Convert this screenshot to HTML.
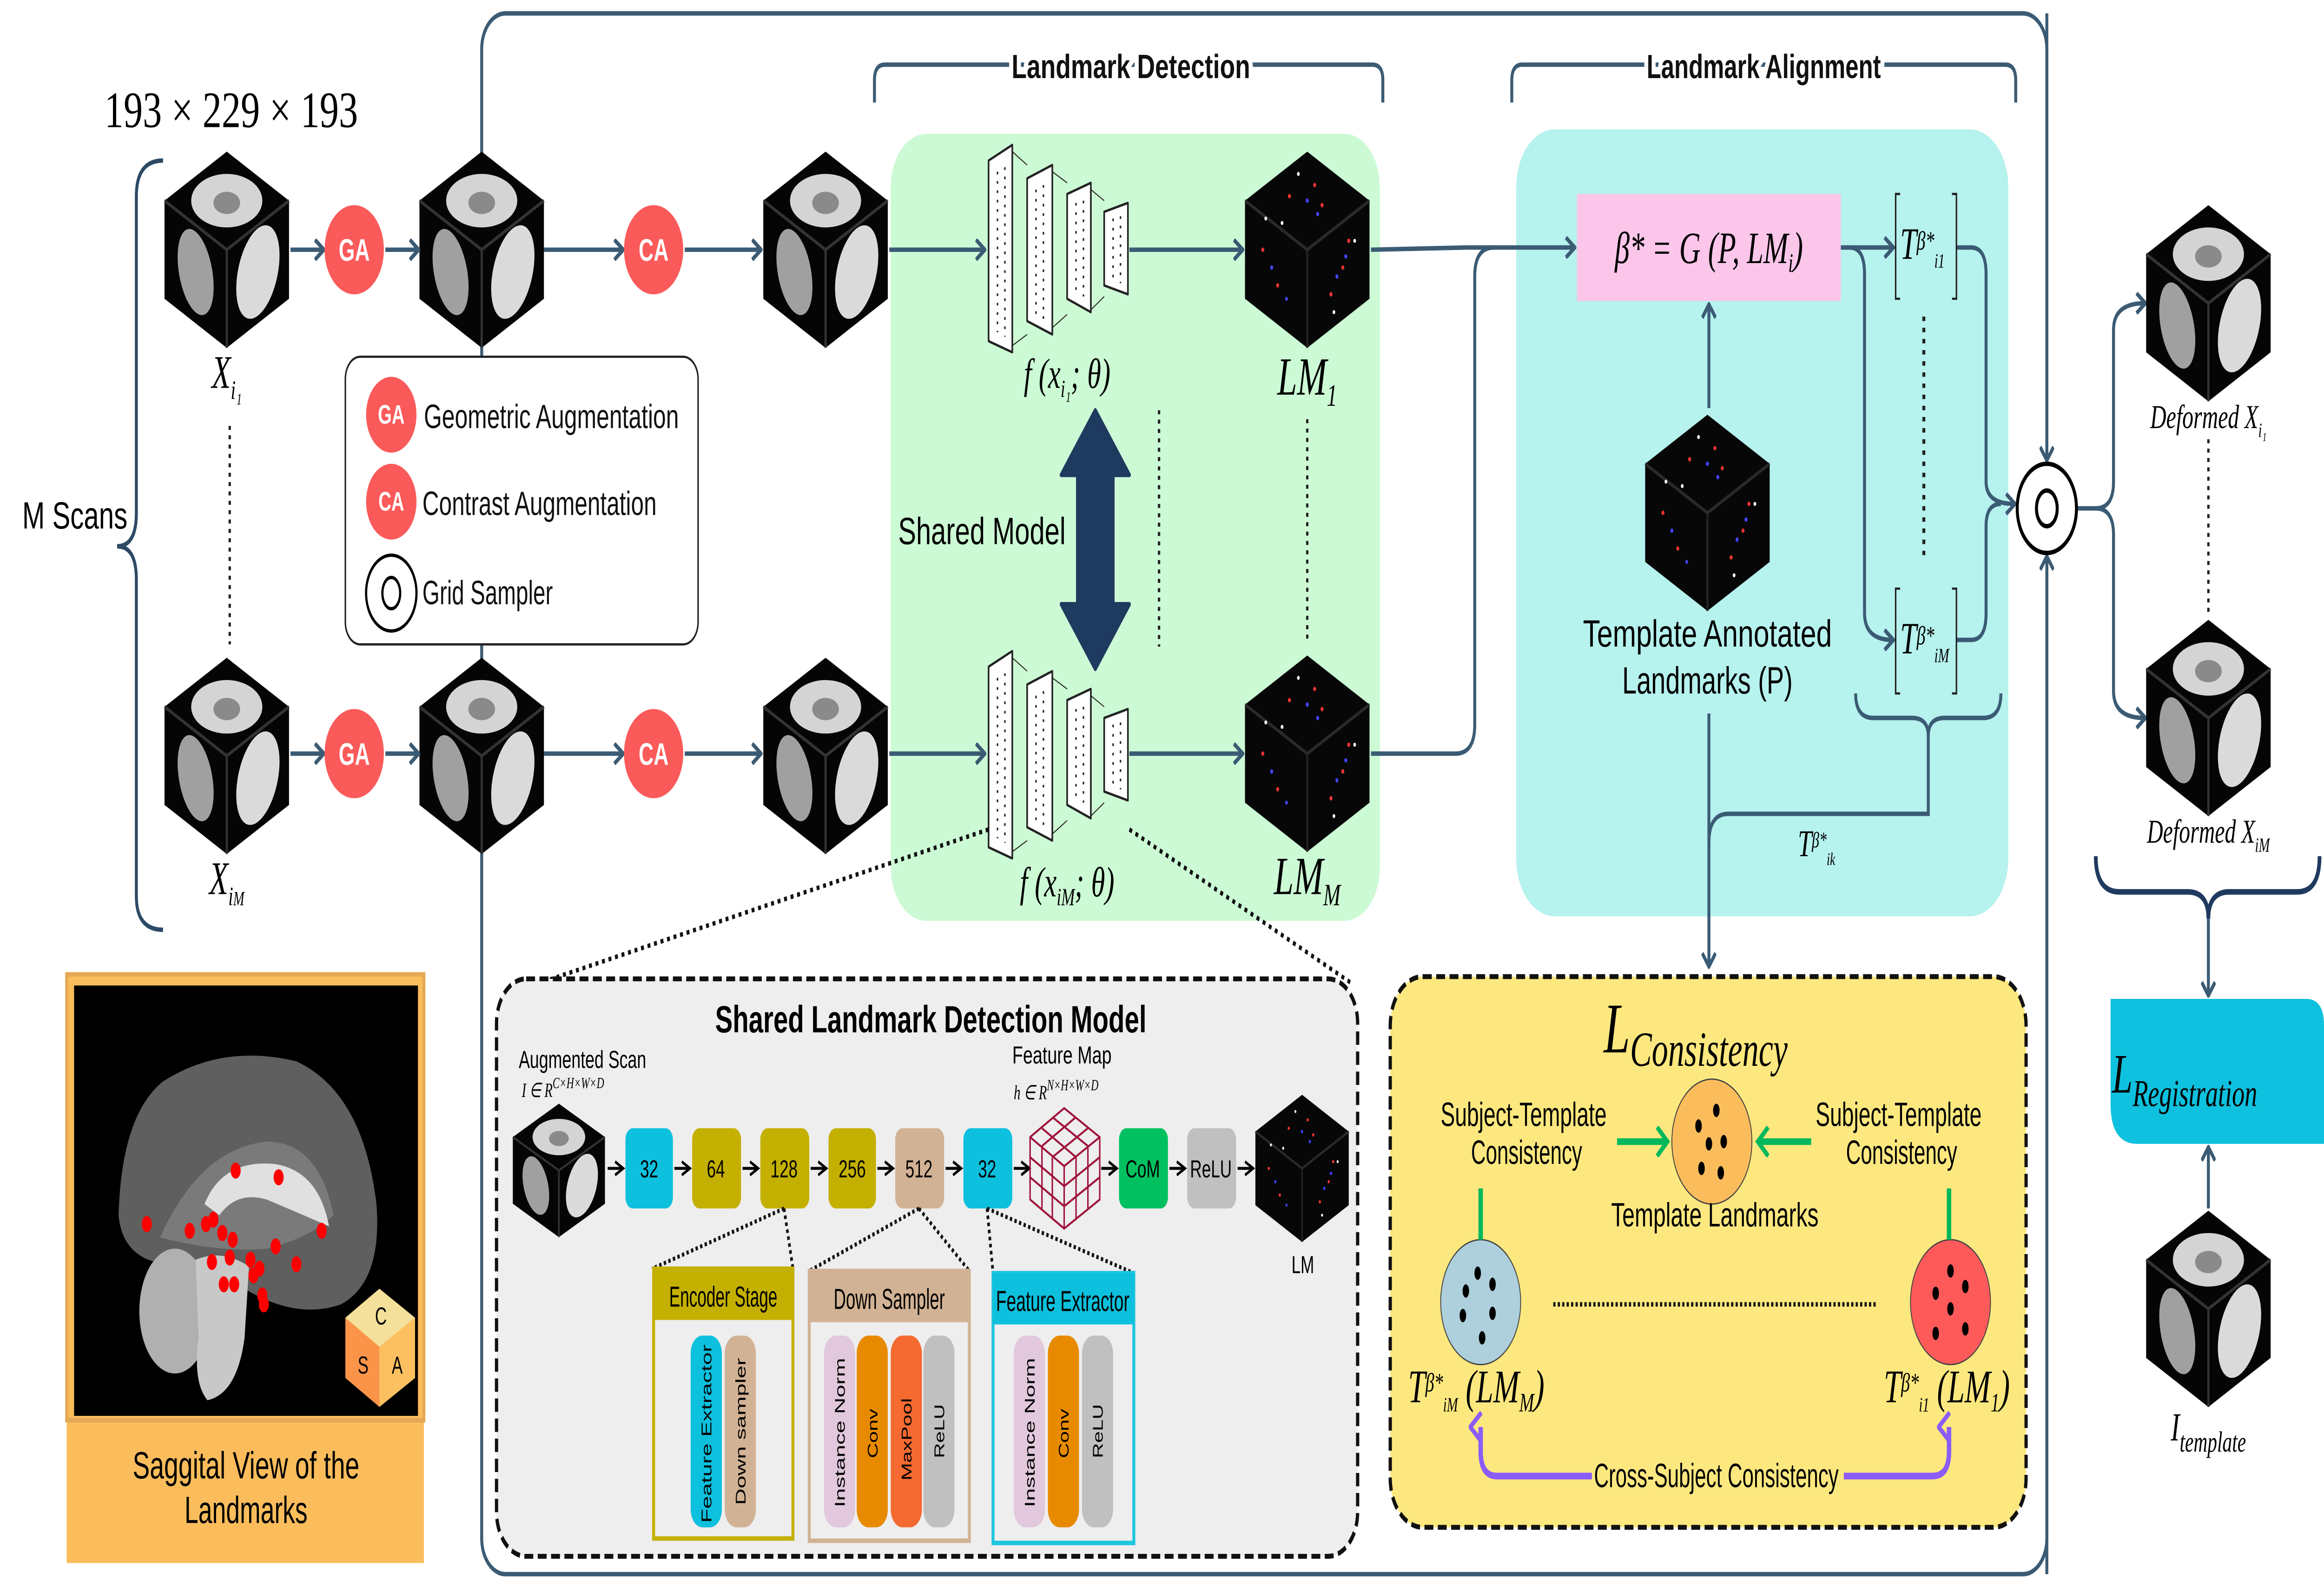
<!DOCTYPE html>
<html><head><meta charset="utf-8">
<style>
html,body{margin:0;padding:0;background:#fff;width:100vw;height:100vh;overflow:hidden;}
svg{display:block;width:100vw;height:100vh;}
text{font-family:"Liberation Sans",sans-serif;}
.m{font-family:"Liberation Serif",serif;font-style:italic;}
.r{font-family:"Liberation Serif",serif;}
</style></head>
<body>
<svg viewBox="0 0 1568 714" preserveAspectRatio="none" xmlns="http://www.w3.org/2000/svg">
<defs>
<marker id="ar" markerWidth="8" markerHeight="10" refX="6.5" refY="5" orient="auto" markerUnits="userSpaceOnUse">
<path d="M1,0.5 L7,5 L1,9.5" fill="none" stroke="#3b5b74" stroke-width="2"/></marker>
<marker id="ak" markerWidth="8" markerHeight="8" refX="6" refY="4" orient="auto" markerUnits="userSpaceOnUse">
<path d="M1,1 L6.5,4 L1,7" fill="none" stroke="#000" stroke-width="1.3"/></marker>
<marker id="ag" markerWidth="10" markerHeight="14" refX="8" refY="7" orient="auto" markerUnits="userSpaceOnUse">
<path d="M1,0.5 L8,7 L1,13.5" fill="none" stroke="#00b85c" stroke-width="2.4"/></marker>
<marker id="ap" markerWidth="14" markerHeight="10" refX="7" refY="8" orient="auto" markerUnits="userSpaceOnUse">
<path d="M0.5,8.5 L7,1 L13.5,8.5" fill="none" stroke="#8b5cf6" stroke-width="2.4"/></marker>
<g id="bc">
<polygon points="42,0 84,22 84,66 42,88 0,66 0,22" fill="#050505"/>
<ellipse cx="42" cy="22" rx="24" ry="12" fill="#d4d4d4"/>
<ellipse cx="42" cy="23" rx="9" ry="5" fill="#8a8a8a"/>
<ellipse cx="21" cy="54" rx="11" ry="20" fill="#a0a0a0" transform="rotate(-18 21 54)"/>
<ellipse cx="63" cy="54" rx="13" ry="22" fill="#dadada" transform="rotate(22 63 54)"/>
<line x1="42" y1="44" x2="42" y2="88" stroke="#333" stroke-width="1.5"/>
<polyline points="0,22 42,44 84,22" fill="none" stroke="#333" stroke-width="1.5"/>
</g>
<g id="lc">
<polygon points="42,0 84,22 84,66 42,88 0,66 0,22" fill="#070707"/>
<line x1="42" y1="44" x2="42" y2="88" stroke="#222" stroke-width="1.5"/>
<polyline points="0,22 42,44 84,22" fill="none" stroke="#2a2a2a" stroke-width="1.5"/>
<g fill="#e33"><circle cx="30" cy="20" r="1"/><circle cx="52" cy="24" r="1"/><circle cx="12" cy="44" r="1"/><circle cx="66" cy="52" r="1"/><circle cx="58" cy="64" r="1"/><circle cx="22" cy="60" r="1"/><circle cx="47" cy="15" r="1"/><circle cx="70" cy="40" r="1"/></g>
<g fill="#44f"><circle cx="42" cy="22" r="1"/><circle cx="18" cy="52" r="1"/><circle cx="68" cy="47" r="1"/><circle cx="28" cy="66" r="0.9"/><circle cx="49" cy="28" r="1"/><circle cx="62" cy="56" r="1"/></g>
<g fill="#fff"><circle cx="36" cy="10" r="0.9"/><circle cx="74" cy="40" r="0.9"/><circle cx="25" cy="32" r="0.9"/><circle cx="60" cy="72" r="0.9"/><circle cx="14" cy="30" r="0.9"/></g>
</g>
<g id="net" fill="#fff" stroke="#222" stroke-width="1.1" stroke-linejoin="round">
<g stroke-width="0.5"><line x1="16" y1="3" x2="26" y2="9"/><line x1="16" y1="90" x2="26" y2="85"/><line x1="43" y1="12" x2="53" y2="17"/><line x1="43" y1="82" x2="53" y2="76"/><line x1="69" y1="20" x2="78" y2="25"/><line x1="69" y1="74" x2="78" y2="68"/></g>
<polygon points="0,7 16,0 16,93 0,88"/>
<polygon points="26,15 43,9 43,85 26,79"/>
<polygon points="53,22 69,17 69,75 53,69"/>
<polygon points="78,30 94,26 94,67 78,63"/>
<g stroke-dasharray="1.2,3" stroke-width="1"><line x1="6" y1="12" x2="6" y2="84"/><line x1="11" y1="10" x2="11" y2="86"/><line x1="32" y1="20" x2="32" y2="76"/><line x1="37" y1="18" x2="37" y2="78"/><line x1="59" y1="26" x2="59" y2="67"/><line x1="64" y1="25" x2="64" y2="68"/><line x1="84" y1="33" x2="84" y2="61"/><line x1="89" y1="32" x2="89" y2="62"/></g>
</g>
</defs>

<rect x="325" y="6" width="1056" height="700" rx="16" fill="none" stroke="#3b5b74" stroke-width="2"/>

<rect x="601" y="60" width="330" height="353" rx="24" fill="#ccfad5"/>
<rect x="1023" y="58" width="332" height="353" rx="26" fill="#b6f2ee"/>

<path d="M590,46 L590,36 Q590,29 597,29 L926,29 Q933,29 933,36 L933,46" fill="none" stroke="#3b5b74" stroke-width="2"/>
<text x="763" y="35" font-size="15" font-weight="bold" text-anchor="middle" textLength="161" lengthAdjust="spacingAndGlyphs" fill="#111" stroke="#fff" stroke-width="5" paint-order="stroke">Landmark Detection</text>
<path d="M1020,46 L1020,36 Q1020,29 1027,29 L1353,29 Q1360,29 1360,36 L1360,46" fill="none" stroke="#3b5b74" stroke-width="2"/>
<text x="1190" y="35" font-size="15" font-weight="bold" text-anchor="middle" textLength="158" lengthAdjust="spacingAndGlyphs" fill="#111" stroke="#fff" stroke-width="5" paint-order="stroke">Landmark Alignment</text>

<text x="156" y="57" class="r" font-size="23" text-anchor="middle" textLength="171" lengthAdjust="spacingAndGlyphs">193 × 229 × 193</text>

<path d="M110,72 Q92,72 92,88 L92,230 Q92,245 79,245 Q92,245 92,260 L92,402 Q92,417 110,417" fill="none" stroke="#2c4a66" stroke-width="2"/>
<text x="15" y="237" font-size="17" textLength="71" lengthAdjust="spacingAndGlyphs">M  Scans</text>

<use href="#bc" x="111" y="68"/>
<use href="#bc" x="283" y="68"/>
<use href="#bc" x="515" y="68"/>
<use href="#bc" x="111" y="295"/>
<use href="#bc" x="283" y="295"/>
<use href="#bc" x="515" y="295"/>

<text x="153" y="174" class="m" font-size="21" text-anchor="middle">X<tspan font-size="12" dy="5">i₁</tspan></text>
<text x="153" y="401" class="m" font-size="21" text-anchor="middle">X<tspan font-size="12" dy="5">i<tspan font-size="9">M</tspan></tspan></text>
<line x1="155" y1="191" x2="155" y2="289" stroke="#222" stroke-width="1.6" stroke-dasharray="1.8,2.4"/>

<g stroke="#3b5b74" stroke-width="2" fill="none" marker-end="url(#ar)">
<line x1="196" y1="112" x2="218" y2="112"/><line x1="260" y1="112" x2="282" y2="112"/>
<line x1="367" y1="112" x2="420" y2="112"/><line x1="462" y1="112" x2="513" y2="112"/>
<line x1="600" y1="112" x2="664" y2="112"/><line x1="762" y1="112" x2="838" y2="112"/>
<line x1="196" y1="338" x2="218" y2="338"/><line x1="260" y1="338" x2="282" y2="338"/>
<line x1="367" y1="338" x2="420" y2="338"/><line x1="462" y1="338" x2="513" y2="338"/>
<line x1="600" y1="338" x2="664" y2="338"/><line x1="762" y1="338" x2="838" y2="338"/>
</g>
<g font-size="14" font-weight="bold" fill="#fff" text-anchor="middle">
<circle cx="239" cy="112" r="20" fill="#fb5a5a"/><text x="239" y="117">GA</text>
<circle cx="441" cy="112" r="20" fill="#fb5a5a"/><text x="441" y="117">CA</text>
<circle cx="239" cy="338" r="20" fill="#fb5a5a"/><text x="239" y="343">GA</text>
<circle cx="441" cy="338" r="20" fill="#fb5a5a"/><text x="441" y="343">CA</text>
</g>

<rect x="233" y="160" width="238" height="129" rx="10" fill="#fff" stroke="#222" stroke-width="1"/>
<g font-size="12" font-weight="bold" fill="#fff" text-anchor="middle">
<circle cx="264" cy="186" r="17" fill="#fb5a5a"/><text x="264" y="190">GA</text>
<circle cx="264" cy="225" r="17" fill="#fb5a5a"/><text x="264" y="229">CA</text>
</g>
<circle cx="264" cy="266" r="17" fill="#fff" stroke="#000" stroke-width="1.5"/>
<ellipse cx="264" cy="266" rx="6" ry="7" fill="none" stroke="#000" stroke-width="1.5"/>
<g font-size="15" fill="#111">
<text x="286" y="192" textLength="172" lengthAdjust="spacingAndGlyphs">Geometric Augmentation</text>
<text x="285" y="231" textLength="158" lengthAdjust="spacingAndGlyphs">Contrast Augmentation</text>
<text x="285" y="271" textLength="88" lengthAdjust="spacingAndGlyphs">Grid Sampler</text>
</g>

<use href="#net" x="667" y="65"/>
<use href="#net" x="667" y="292"/>
<text x="720" y="174" class="m" font-size="19" text-anchor="middle">f (x<tspan font-size="11" dy="4">i₁</tspan><tspan dy="-4">; θ)</tspan></text>
<text x="720" y="402" class="m" font-size="19" text-anchor="middle">f (x<tspan font-size="11" dy="4">iM</tspan><tspan dy="-4">; θ)</tspan></text>
<path d="M739,184 L762,213 L751,213 L751,271 L762,271 L739,300 L716,271 L727,271 L727,213 L716,213 Z" fill="#1f3a5f" stroke="#1f3a5f" stroke-width="2" stroke-linejoin="round"/>
<text x="606" y="244" font-size="17" textLength="113" lengthAdjust="spacingAndGlyphs">Shared Model</text>
<line x1="782" y1="184" x2="782" y2="290" stroke="#222" stroke-width="1.6" stroke-dasharray="1.8,2.4"/>
<line x1="882" y1="188" x2="882" y2="288" stroke="#222" stroke-width="1.6" stroke-dasharray="1.8,2.4"/>

<use href="#lc" x="840" y="68"/>
<use href="#lc" x="840" y="294"/>
<text x="882" y="177" class="m" font-size="24" text-anchor="middle">LM<tspan font-size="14" dy="5">1</tspan></text>
<text x="882" y="401" class="m" font-size="24" text-anchor="middle">LM<tspan font-size="14" dy="5">M</tspan></text>

<rect x="1064" y="87" width="178" height="48" fill="#fcc6ea"/>
<text x="1153" y="118" class="m" font-size="20" text-anchor="middle">β* = G (P, LM<tspan font-size="12" dy="4">i</tspan><tspan dy="-4">)</tspan></text>
<g stroke="#3b5b74" stroke-width="2" fill="none">
<path d="M925,112 L990,111 Q995,111 1000,111 L1062,111" marker-end="url(#ar)"/>
<path d="M925,338 L982,338 Q995,338 995,325 L995,124 Q995,111 1008,111"/>
<path d="M1153,183 L1153,137" marker-end="url(#ar)"/>
<path d="M1242,111 L1277,111" marker-end="url(#ar)"/>
<path d="M1248,111 Q1258,111 1258,123 L1258,275 Q1258,287 1277,287" marker-end="url(#ar)"/>
<path d="M1320,111 L1330,111 Q1340,111 1340,123 L1340,216 Q1340,226 1359,226" marker-end="url(#ar)"/>
<path d="M1320,287 L1330,287 Q1340,287 1340,275 L1340,236 Q1340,226 1350,226"/>
<path d="M1381,6 L1381,206" marker-end="url(#ar)"/>
<path d="M1381,706 L1381,250" marker-end="url(#ar)"/>
<path d="M1401,228 L1414,228 Q1426,228 1426,216 L1426,148 Q1426,136 1447,136" marker-end="url(#ar)"/>
<path d="M1414,228 Q1426,228 1426,240 L1426,310 Q1426,322 1447,322" marker-end="url(#ar)"/>
<path d="M1153,320 L1153,433" marker-end="url(#ar)"/>
<path d="M1153,378 Q1153,365 1166,365 L1301,365 L1301,330"/>
<path d="M1252,311 Q1252,322 1264,322 L1290,322 Q1301,322 1301,330 Q1301,322 1312,322 L1338,322 Q1350,322 1350,311"/>
</g>
<g stroke="#222" stroke-width="1" fill="none">
<path d="M1282,87 L1279,87 L1279,134 L1282,134"/><path d="M1317,87 L1320,87 L1320,134 L1317,134"/>
<path d="M1282,264 L1279,264 L1279,311 L1282,311"/><path d="M1317,264 L1320,264 L1320,311 L1317,311"/>
</g>
<text x="1282" y="116" class="m" font-size="20">T<tspan font-size="12" dy="-4">β*</tspan><tspan font-size="9" dy="8">i1</tspan></text>
<text x="1282" y="293" class="m" font-size="20">T<tspan font-size="12" dy="-4">β*</tspan><tspan font-size="9" dy="8">iM</tspan></text>
<line x1="1298" y1="142" x2="1298" y2="249" stroke="#222" stroke-width="2" stroke-dasharray="2,3"/>
<use href="#lc" x="1110" y="186"/>
<text x="1152" y="290" font-size="17" text-anchor="middle" textLength="168" lengthAdjust="spacingAndGlyphs">Template Annotated</text>
<text x="1152" y="311" font-size="17" text-anchor="middle" textLength="115" lengthAdjust="spacingAndGlyphs">Landmarks (P)</text>
<text x="1213" y="384" class="m" font-size="17">T<tspan font-size="10" dy="-4">β*</tspan><tspan font-size="8" dy="8">ik</tspan></text>

<circle cx="1381" cy="228" r="20" fill="#fff" stroke="#000" stroke-width="2"/>
<ellipse cx="1381" cy="228" rx="7" ry="8" fill="none" stroke="#000" stroke-width="2"/>

<use href="#bc" x="1448" y="92"/>
<use href="#bc" x="1448" y="278"/>
<text x="1490" y="192" class="m" font-size="15" text-anchor="middle">Deformed X<tspan font-size="9" dy="4">i₁</tspan></text>
<text x="1490" y="378" class="m" font-size="15" text-anchor="middle">Deformed X<tspan font-size="9" dy="4">iM</tspan></text>
<line x1="1490" y1="197" x2="1490" y2="276" stroke="#222" stroke-width="1.6" stroke-dasharray="1.8,2.4"/>
<path d="M1414,384 Q1414,400 1430,400 L1476,400 Q1490,400 1490,412 Q1490,400 1504,400 L1550,400 Q1565,400 1565,384" fill="none" stroke="#1f3a5f" stroke-width="2.5"/>
<path d="M1490,412 L1490,446" stroke="#3b5b74" stroke-width="2" marker-end="url(#ar)"/>
<path d="M1424,448 L1556,448 Q1568,448 1568,460 L1568,513 L1442,513 Q1424,513 1424,495 Z" fill="#0ec1de"/>
<text x="1425" y="490" class="m" font-size="25">L<tspan font-size="17" dy="6">Registration</tspan></text>
<path d="M1490,542 L1490,515" stroke="#3b5b74" stroke-width="2" marker-end="url(#ar)"/>
<use href="#bc" x="1448" y="543"/>
<text x="1490" y="646" class="m" font-size="18" text-anchor="middle">I<tspan font-size="13" dy="5">template</tspan></text>

<!-- sagittal -->
<rect x="45" y="437" width="241" height="264" fill="#fbbd5c"/>
<rect x="45" y="437" width="241" height="200" fill="none" stroke="#e5a855" stroke-width="2"/>
<rect x="50" y="442" width="232" height="193" fill="#000"/>
<path d="M80,545 Q82,500 110,485 Q150,468 200,476 Q245,490 254,540 Q258,575 230,585 Q200,592 165,578 L100,565 Q82,560 80,545 Z" fill="#5f5f5f"/>
<path d="M108,555 Q135,515 180,512 Q215,512 225,545 Q210,555 180,560 Q150,562 108,555 Z" fill="#7a7a7a"/>
<path d="M138,540 Q150,520 185,522 Q215,525 222,550 Q205,545 180,538 Q160,534 148,545 Z" fill="#e0e0e0"/>
<ellipse cx="118" cy="588" rx="24" ry="28" fill="#b0b0b0"/>
<path d="M132,565 Q150,560 168,568 L165,600 Q160,625 140,628 Q130,620 134,600 Z" fill="#c8c8c8"/>
<g fill="#f00">
<ellipse cx="159" cy="525" rx="3.4" ry="3.6"/><ellipse cx="188" cy="528" rx="3.4" ry="3.6"/><ellipse cx="99" cy="549" rx="3.4" ry="3.6"/><ellipse cx="128" cy="552" rx="3.4" ry="3.6"/><ellipse cx="139" cy="549" rx="3.4" ry="3.6"/><ellipse cx="144" cy="547" rx="3.4" ry="3.6"/><ellipse cx="150" cy="553" rx="3.4" ry="3.6"/><ellipse cx="157" cy="556" rx="3.4" ry="3.6"/><ellipse cx="186" cy="559" rx="3.4" ry="3.6"/><ellipse cx="217" cy="552" rx="3.4" ry="3.6"/><ellipse cx="200" cy="567" rx="3.4" ry="3.6"/><ellipse cx="143" cy="566" rx="3.4" ry="3.6"/><ellipse cx="155" cy="564" rx="3.4" ry="3.6"/><ellipse cx="169" cy="565" rx="3.4" ry="3.6"/><ellipse cx="175" cy="569" rx="3.4" ry="3.6"/><ellipse cx="171" cy="572" rx="3.4" ry="3.6"/><ellipse cx="151" cy="576" rx="3.4" ry="3.6"/><ellipse cx="158" cy="576" rx="3.4" ry="3.6"/><ellipse cx="177" cy="581" rx="3.4" ry="3.6"/><ellipse cx="178" cy="585" rx="3.4" ry="3.6"/>
</g>
<polygon points="256,578 280,591 280,618 256,631 233,618 233,591" fill="#fb9448"/>
<polygon points="256,578 280,591 256,604 233,591" fill="#f4e09a"/>
<polygon points="256,604 280,591 280,618 256,631" fill="#fcc060"/>
<g font-size="11" text-anchor="middle"><text x="257" y="594">C</text><text x="245" y="616">S</text><text x="268" y="616">A</text></g>
<text x="166" y="663" font-size="17" text-anchor="middle" textLength="153" lengthAdjust="spacingAndGlyphs">Saggital View of the</text>
<text x="166" y="683" font-size="17" text-anchor="middle" textLength="83" lengthAdjust="spacingAndGlyphs">Landmarks</text>

<!-- detection model -->
<line x1="667" y1="372" x2="368" y2="440" stroke="#111" stroke-width="2" stroke-dasharray="2,2.5"/>
<line x1="762" y1="372" x2="912" y2="441" stroke="#111" stroke-width="2" stroke-dasharray="2,2.5"/>
<rect x="335" y="439" width="581" height="259" rx="20" fill="#eeeeee" stroke="#111" stroke-width="2.2" stroke-dasharray="6,3"/>
<text x="628" y="463" font-size="17" font-weight="bold" text-anchor="middle" textLength="291" lengthAdjust="spacingAndGlyphs">Shared Landmark Detection Model</text>
<text x="350" y="479" font-size="11" textLength="86" lengthAdjust="spacingAndGlyphs">Augmented Scan</text>
<text x="352" y="492" class="m" font-size="9">I ∈ R<tspan font-size="7" dy="-4">C×H×W×D</tspan></text>
<text x="683" y="477" font-size="11" textLength="67" lengthAdjust="spacingAndGlyphs">Feature Map</text>
<text x="684" y="493" class="m" font-size="9">h ∈ R<tspan font-size="7" dy="-4">N×H×W×D</tspan></text>
<use href="#bc" transform="translate(346,495) scale(0.74,0.68)"/>
<g font-size="11" text-anchor="middle">
<rect x="422" y="506" width="32" height="36" rx="5" fill="#0dc0dd"/><text x="438" y="528">32</text>
<rect x="467" y="506" width="33" height="36" rx="5" fill="#c4b000"/><text x="483" y="528">64</text>
<rect x="513" y="506" width="33" height="36" rx="5" fill="#c4b000"/><text x="529" y="528">128</text>
<rect x="559" y="506" width="32" height="36" rx="5" fill="#c4b000"/><text x="575" y="528">256</text>
<rect x="604" y="506" width="33" height="36" rx="5" fill="#d2b294"/><text x="620" y="528">512</text>
<rect x="650" y="506" width="33" height="36" rx="5" fill="#0dc0dd"/><text x="666" y="528">32</text>
<rect x="755" y="506" width="33" height="36" rx="5" fill="#00c060"/><text x="771" y="528">CoM</text>
<rect x="801" y="506" width="33" height="36" rx="5" fill="#c0c0c0"/><text x="817" y="528">ReLU</text>
</g>
<g stroke="#000" stroke-width="1.3" marker-end="url(#ak)">
<line x1="410" y1="524" x2="420" y2="524"/><line x1="455" y1="524" x2="465" y2="524"/><line x1="501" y1="524" x2="511" y2="524"/><line x1="547" y1="524" x2="557" y2="524"/><line x1="592" y1="524" x2="602" y2="524"/><line x1="638" y1="524" x2="648" y2="524"/><line x1="684" y1="524" x2="694" y2="524"/><line x1="743" y1="524" x2="753" y2="524"/><line x1="789" y1="524" x2="799" y2="524"/><line x1="835" y1="524" x2="845" y2="524"/>
</g>
<g fill="none" stroke="#a0143c" stroke-width="1">
<polygon points="718,497 742,510 742,538 718,551 695,538 695,510"/>
<polyline points="695,510 718,523 742,510"/><line x1="718" y1="523" x2="718" y2="551"/>
<line x1="703" y1="506" x2="726" y2="519"/><line x1="710" y1="501" x2="734" y2="514"/>
<line x1="726" y1="501" x2="703" y2="514"/><line x1="734" y1="506" x2="710" y2="519"/>
<line x1="695" y1="519" x2="718" y2="532"/><line x1="695" y1="528" x2="718" y2="541"/>
<line x1="742" y1="519" x2="718" y2="532"/><line x1="742" y1="528" x2="718" y2="541"/>
<line x1="703" y1="514" x2="703" y2="542"/><line x1="710" y1="519" x2="710" y2="547"/>
<line x1="726" y1="519" x2="726" y2="547"/><line x1="734" y1="514" x2="734" y2="542"/>
</g>
<use href="#lc" transform="translate(847,491) scale(0.75)"/>
<text x="879" y="571" font-size="11" text-anchor="middle">LM</text>
<g stroke="#111" stroke-width="1.8" stroke-dasharray="1.6,1.6">
<line x1="529" y1="542" x2="440" y2="569"/><line x1="529" y1="542" x2="535" y2="569"/>
<line x1="620" y1="542" x2="546" y2="570"/><line x1="620" y1="542" x2="654" y2="570"/>
<line x1="666" y1="542" x2="670" y2="571"/><line x1="666" y1="542" x2="765" y2="571"/>
</g>
<rect x="441" y="569" width="94" height="121" fill="#eeeeee" stroke="#c4b000" stroke-width="2"/>
<rect x="441" y="569" width="94" height="23" fill="#c4b000"/>
<text x="488" y="586" font-size="13" text-anchor="middle" textLength="73" lengthAdjust="spacingAndGlyphs">Encoder Stage</text>
<rect x="546" y="570" width="108" height="121" fill="#eeeeee" stroke="#d2b294" stroke-width="2"/>
<rect x="546" y="570" width="108" height="23" fill="#d2b294"/>
<text x="600" y="587" font-size="13" text-anchor="middle" textLength="75" lengthAdjust="spacingAndGlyphs">Down Sampler</text>
<rect x="670" y="571" width="95" height="121" fill="#eeeeee" stroke="#1ec5df" stroke-width="2"/>
<rect x="670" y="571" width="95" height="23" fill="#0dc0dd"/>
<text x="717" y="588" font-size="13" text-anchor="middle" textLength="90" lengthAdjust="spacingAndGlyphs">Feature Extractor</text>
<g font-size="9.5">
<rect x="466" y="599" width="21" height="86" rx="8" fill="#0dc0dd"/><text transform="translate(480,683) rotate(-90)" textLength="80" lengthAdjust="spacingAndGlyphs">Feature Extractor</text>
<rect x="489" y="599" width="21" height="86" rx="8" fill="#d2b294"/><text transform="translate(503,675) rotate(-90)" textLength="66" lengthAdjust="spacingAndGlyphs">Down sampler</text>
<rect x="556" y="599" width="21" height="86" rx="8" fill="#e2c8dc"/><text transform="translate(570,676) rotate(-90)" textLength="67" lengthAdjust="spacingAndGlyphs">Instance Norm</text>
<rect x="578" y="599" width="21" height="86" rx="8" fill="#e88a00"/><text transform="translate(592,654) rotate(-90)">Conv</text>
<rect x="601" y="599" width="21" height="86" rx="8" fill="#f56a30"/><text transform="translate(615,664) rotate(-90)">MaxPool</text>
<rect x="623" y="599" width="21" height="86" rx="8" fill="#c0c0c0"/><text transform="translate(637,654) rotate(-90)">ReLU</text>
<rect x="684" y="599" width="21" height="86" rx="8" fill="#e2c8dc"/><text transform="translate(698,676) rotate(-90)" textLength="67" lengthAdjust="spacingAndGlyphs">Instance Norm</text>
<rect x="707" y="599" width="21" height="86" rx="8" fill="#e88a00"/><text transform="translate(721,654) rotate(-90)">Conv</text>
<rect x="730" y="599" width="21" height="86" rx="8" fill="#c0c0c0"/><text transform="translate(744,654) rotate(-90)">ReLU</text>
</g>

<!-- consistency -->
<rect x="938" y="438" width="429" height="247" rx="22" fill="#fde87f" stroke="#111" stroke-width="2.2" stroke-dasharray="6,3"/>
<text x="1082" y="472" class="m" font-size="32">L<tspan font-size="22" dy="6">Consistency</tspan></text>
<ellipse cx="1155" cy="512" rx="27" ry="28" fill="#fbbd5c" stroke="#444" stroke-width="0.6"/>
<g fill="#000"><ellipse cx="1158" cy="498" rx="2.2" ry="3"/><ellipse cx="1146" cy="505" rx="2.2" ry="3"/><ellipse cx="1153" cy="513" rx="2.2" ry="3"/><ellipse cx="1163" cy="512" rx="2.2" ry="3"/><ellipse cx="1148" cy="524" rx="2.2" ry="3"/><ellipse cx="1161" cy="526" rx="2.2" ry="3"/></g>
<ellipse cx="999" cy="584" rx="27" ry="28" fill="#aed0dc" stroke="#444" stroke-width="0.6"/>
<g fill="#000"><ellipse cx="997" cy="571" rx="2.2" ry="3"/><ellipse cx="989" cy="579" rx="2.2" ry="3"/><ellipse cx="1007" cy="576" rx="2.2" ry="3"/><ellipse cx="987" cy="590" rx="2.2" ry="3"/><ellipse cx="1007" cy="589" rx="2.2" ry="3"/><ellipse cx="1000" cy="600" rx="2.2" ry="3"/></g>
<ellipse cx="1316" cy="584" rx="27" ry="28" fill="#ff5a5a" stroke="#444" stroke-width="0.6"/>
<g fill="#000"><ellipse cx="1316" cy="570" rx="2.2" ry="3"/><ellipse cx="1306" cy="580" rx="2.2" ry="3"/><ellipse cx="1326" cy="577" rx="2.2" ry="3"/><ellipse cx="1316" cy="587" rx="2.2" ry="3"/><ellipse cx="1306" cy="598" rx="2.2" ry="3"/><ellipse cx="1326" cy="596" rx="2.2" ry="3"/></g>
<g font-size="15" text-anchor="middle">
<text x="1028" y="505" textLength="112" lengthAdjust="spacingAndGlyphs">Subject-Template</text><text x="1030" y="522" textLength="75" lengthAdjust="spacingAndGlyphs">Consistency</text>
<text x="1281" y="505" textLength="112" lengthAdjust="spacingAndGlyphs">Subject-Template</text><text x="1283" y="522" textLength="75" lengthAdjust="spacingAndGlyphs">Consistency</text>
<text x="1157" y="550" textLength="140" lengthAdjust="spacingAndGlyphs">Template Landmarks</text>
<text x="1158" y="667" textLength="165" lengthAdjust="spacingAndGlyphs">Cross-Subject Consistency</text>
</g>
<g stroke="#00b85c" stroke-width="3">
<line x1="1091" y1="512" x2="1125" y2="512" marker-end="url(#ag)"/>
<line x1="1222" y1="512" x2="1186" y2="512" marker-end="url(#ag)"/>
<line x1="999" y1="533" x2="999" y2="556"/><line x1="1315" y1="533" x2="1315" y2="556"/>
</g>
<line x1="1048" y1="585" x2="1267" y2="585" stroke="#111" stroke-width="2" stroke-dasharray="1.5,1.5"/>
<text x="950" y="629" class="m" font-size="21">T<tspan font-size="12" dy="-5">β*</tspan><tspan font-size="9" dy="9">iM</tspan><tspan font-size="21" dy="-4"> (LM</tspan><tspan font-size="12" dy="4">M</tspan><tspan font-size="21" dy="-4">)</tspan></text>
<text x="1271" y="629" class="m" font-size="21">T<tspan font-size="12" dy="-5">β*</tspan><tspan font-size="9" dy="9">i1</tspan><tspan font-size="21" dy="-4"> (LM</tspan><tspan font-size="12" dy="4">1</tspan><tspan font-size="21" dy="-4">)</tspan></text>
<g stroke="#8b5cf6" stroke-width="3" fill="none">
<path d="M1074,662 L1010,662 Q999,662 999,651 L999,640" marker-end="url(#ap)"/>
<path d="M1244,662 L1304,662 Q1315,662 1315,651 L1315,640" marker-end="url(#ap)"/>
</g>
</svg>
</body></html>
